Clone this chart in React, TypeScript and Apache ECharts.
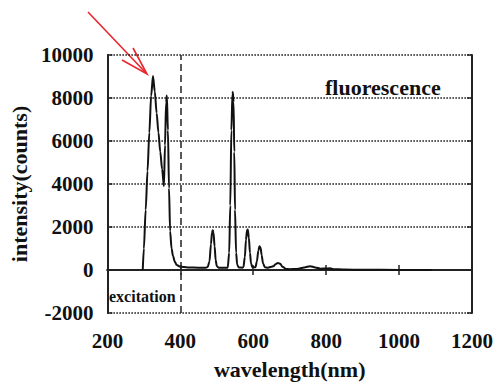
import React, { useEffect, useRef } from "react";
import * as echarts from "echarts";

const wavelength = [297, 300, 305, 310, 315, 320, 325, 330, 335, 340, 345, 350, 355, 358, 361, 363, 366, 369, 372, 376, 380, 385, 390, 400, 420, 450, 470, 475, 480, 484, 487, 489, 491, 494, 497, 500, 505, 520, 530, 534, 537, 540, 543, 544, 546, 548, 550, 553, 556, 560, 570, 573, 577, 580, 583, 585, 588, 591, 594, 598, 606, 610, 614, 617, 620, 623, 627, 632, 640, 650, 655, 662, 668, 674, 680, 690, 700, 720, 740, 756, 770, 785, 800, 810, 820, 850, 900, 1000, 1089];
const intensity = [0, 1000, 2800, 4600, 6400, 8100, 9020, 8300, 7300, 6400, 5500, 4700, 3900, 5800, 7800, 8120, 6500, 3800, 1800, 1000, 650, 380, 230, 150, 120, 110, 110, 140, 400, 1200, 1750, 1850, 1750, 1100, 450, 180, 110, 100, 110, 800, 3000, 6500, 8200, 8280, 7800, 5500, 2800, 800, 250, 120, 110, 130, 600, 1400, 1850, 1880, 1500, 800, 300, 130, 130, 400, 900, 1100, 1050, 700, 300, 130, 110, 150, 170, 280, 330, 290, 150, 50, 40, 50, 120, 180, 120, 60, 70, 80, 40, 20, 10, 5, 0];

const xTicks = { min: 200, max: 1200, interval: 200 };
const yTicks = { min: -2000, max: 10000, interval: 2000 };
const excitationWavelength = 400;
const xName = "wavelength(nm)";
const yName = "intensity(counts)";
const seriesLabel = "fluorescence";
const markerLabel = "excitation";

const FONT = "Liberation Serif";

export default function App() {
  const ref = useRef<HTMLDivElement>(null);
  useEffect(() => {
    if (!ref.current) return;
    const chart = echarts.init(ref.current, null, { renderer: "svg" });
    const data = wavelength.map((w, i) => [w, intensity[i]]);
    const axisLine = { show: true, lineStyle: { color: "#222", width: 2 } };
    const tick = { show: true, inside: true, length: 5, lineStyle: { color: "#222", width: 1.5 } };
    const baseLabel = { fontFamily: FONT, fontWeight: "bold", fontSize: 21, color: "#111", formatter: (v: number) => String(v) };
    chart.setOption({
      animation: false,
      backgroundColor: "#fff",
      grid: { left: 106, right: 23, top: 55, bottom: 64 },
      xAxis: [
        {
          type: "value",
          position: "bottom",
          ...xTicks,
          name: xName,
          nameLocation: "middle",
          nameGap: 45,
          nameTextStyle: { fontFamily: FONT, fontWeight: "bold", fontSize: 22, color: "#111" },
          axisLine,
          axisTick: tick,
          axisLabel: { ...baseLabel, margin: 17 },
          splitLine: { show: false },
        },
        {
          type: "value",
          position: "top",
          ...xTicks,
          axisLine,
          axisTick: tick,
          axisLabel: { show: false },
          splitLine: { show: false },
        },
      ],
      yAxis: [
        {
          type: "value",
          position: "left",
          ...yTicks,
          name: yName,
          nameLocation: "middle",
          nameGap: 70,
          nameTextStyle: { fontFamily: FONT, fontWeight: "bold", fontSize: 22, color: "#111" },
          axisLine,
          axisTick: tick,
          axisLabel: { ...baseLabel, margin: 14 },
          splitLine: { show: true, lineStyle: { color: "#111", width: 1.5, type: "dotted" } },
        },
        {
          type: "value",
          position: "right",
          ...yTicks,
          axisLine,
          axisTick: tick,
          axisLabel: { show: false },
          splitLine: { show: false },
        },
      ],
      series: [
        {
          type: "line",
          data,
          showSymbol: false,
          smooth: 0.3,
          smoothMonotone: "x",
          lineStyle: { color: "#111", width: 2 },
          markLine: {
            silent: true,
            symbol: "none",
            label: { show: false },
            lineStyle: { color: "#222", width: 1.5, type: [7, 4] },
            data: [{ xAxis: excitationWavelength }],
          },
        },
      ],
      graphic: [
        {
          type: "text",
          left: 325,
          top: 76,
          style: { text: seriesLabel, fontFamily: FONT, fontWeight: "bold", fontSize: 22, fill: "#111" },
        },
        {
          type: "text",
          left: 109,
          top: 288,
          style: { text: markerLabel, fontFamily: FONT, fontWeight: "bold", fontSize: 16, fill: "#111" },
        },
        {
          type: "line",
          shape: { x1: 88, y1: 12, x2: 146, y2: 73 },
          style: { stroke: "#e8262c", lineWidth: 1.6 },
        },
        {
          type: "polyline",
          shape: { points: [[122, 60], [147, 74], [133, 48]] },
          style: { stroke: "#e8262c", lineWidth: 1.6, fill: "none" },
        },
      ],
    });
    return () => chart.dispose();
  }, []);
  return <div ref={ref} style={{ width: 496, height: 385, position: "absolute", left: 0, top: 0 }} />;
}
